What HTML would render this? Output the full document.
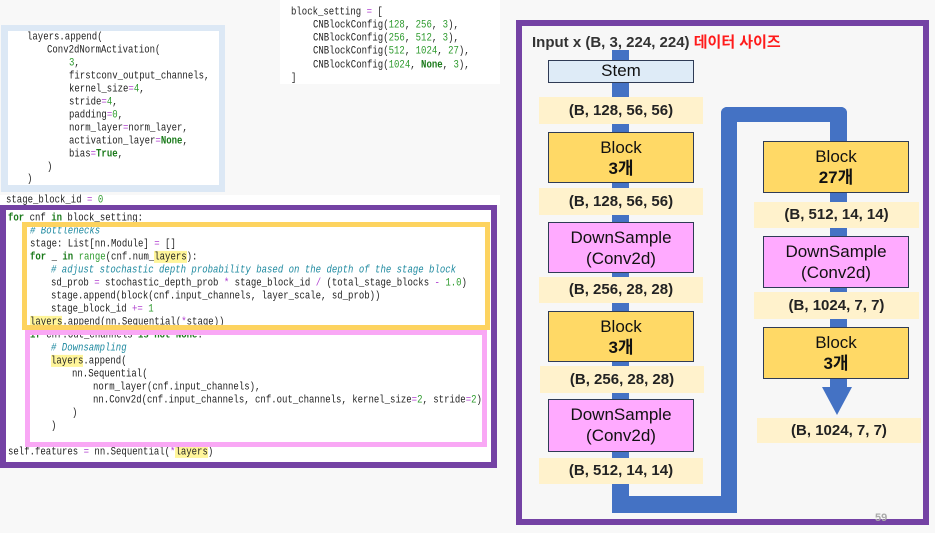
<!DOCTYPE html>
<html><head><meta charset="utf-8"><style>
body{margin:0;width:935px;height:533px;background:#f8f8f8;position:relative;overflow:hidden;font-family:"Liberation Sans","Noto Sans CJK KR",sans-serif}
.a{position:absolute}
.c{position:absolute;font-family:"Liberation Mono",monospace;font-size:9px;line-height:13px;height:13px;white-space:pre;color:#222;transform:scaleY(1.2);transform-origin:0 50%}
.k{color:#1a7a1a;font-weight:bold}.n{color:#2c9a2c}.o{color:#b040d0}.cm{color:#1f8aa0;font-style:italic}.h{background:#fff59a}
.lab{position:absolute;background:#fff2cc;font-weight:bold;font-size:15px;color:#222;text-align:center}
.bx{position:absolute;border:1.5px solid #2f3b55;box-sizing:border-box;text-align:center;color:#111;font-size:17px;line-height:21px}
.bl{background:#4472c4;position:absolute}
</style></head><body>
<!-- panel 1 -->
<div class="a" style="left:1px;top:25px;width:224px;height:167px;background:#dce8f5"></div>
<div class="a" style="left:8px;top:31px;width:211px;height:154px;background:#fff"></div>
<div class="c" style="left:27px;top:31px">layers.append(</div>
<div class="c" style="left:47px;top:44px">Conv2dNormActivation(</div>
<div class="c" style="left:69px;top:57px"><span class="n">3</span>,</div>
<div class="c" style="left:69px;top:70px">firstconv_output_channels,</div>
<div class="c" style="left:69px;top:83px">kernel_size<span class="o">=</span><span class="n">4</span>,</div>
<div class="c" style="left:69px;top:96px">stride<span class="o">=</span><span class="n">4</span>,</div>
<div class="c" style="left:69px;top:109px">padding<span class="o">=</span><span class="n">0</span>,</div>
<div class="c" style="left:69px;top:122px">norm_layer<span class="o">=</span>norm_layer,</div>
<div class="c" style="left:69px;top:135px">activation_layer<span class="o">=</span><span class="k">None</span>,</div>
<div class="c" style="left:69px;top:148px">bias<span class="o">=</span><span class="k">True</span>,</div>
<div class="c" style="left:47px;top:161px">)</div>
<div class="c" style="left:27px;top:173px">)</div>
<!-- panel 2 -->
<div class="a" style="left:280px;top:0;width:220px;height:84px;background:#fff"></div>
<div class="c" style="left:291px;top:6px">block_setting <span class="o">=</span> [</div>
<div class="c" style="left:313px;top:19px">CNBlockConfig(<span class="n">128</span>, <span class="n">256</span>, <span class="n">3</span>),</div>
<div class="c" style="left:313px;top:32px">CNBlockConfig(<span class="n">256</span>, <span class="n">512</span>, <span class="n">3</span>),</div>
<div class="c" style="left:313px;top:45px">CNBlockConfig(<span class="n">512</span>, <span class="n">1024</span>, <span class="n">27</span>),</div>
<div class="c" style="left:313px;top:59px">CNBlockConfig(<span class="n">1024</span>, <span class="k">None</span>, <span class="n">3</span>),</div>
<div class="c" style="left:291px;top:72px">]</div>
<!-- panel 3 -->
<div class="a" style="left:0;top:195px;width:500px;height:10px;background:#fff"></div>
<div class="c" style="left:6px;top:194px">stage_block_id <span class="o">=</span> <span class="n">0</span></div>
<div class="a" style="left:0;top:205px;width:485px;height:252px;background:#fff;border:6px solid #7442a4;border-top-width:5px"></div>
<div class="c" style="left:8px;top:212px"><span class="k">for</span> cnf <span class="k">in</span> block_setting:</div>
<div class="c" style="left:30px;top:225px"><span class="cm"># Bottlenecks</span></div>
<div class="c" style="left:30px;top:238px">stage: List[nn.Module] <span class="o">=</span> []</div>
<div class="c" style="left:30px;top:251px"><span class="k">for</span> _ <span class="k">in</span> <span class="n">range</span>(cnf.num_<span class="h">layers</span>):</div>
<div class="c" style="left:51px;top:264px"><span class="cm"># adjust stochastic depth probability based on the depth of the stage block</span></div>
<div class="c" style="left:51px;top:277px">sd_prob <span class="o">=</span> stochastic_depth_prob <span class="o">*</span> stage_block_id <span class="o">/</span> (total_stage_blocks <span class="o">-</span> <span class="n">1.0</span>)</div>
<div class="c" style="left:51px;top:290px">stage.append(block(cnf.input_channels, layer_scale, sd_prob))</div>
<div class="c" style="left:51px;top:303px">stage_block_id <span class="o">+=</span> <span class="n">1</span></div>
<div class="c" style="left:30px;top:316px"><span class="h">layers</span>.append(nn.Sequential(<span class="o">*</span>stage))</div>
<div class="c" style="left:30px;top:329px"><span class="k">if</span> cnf.out_channels <span class="k">is not None</span>:</div>
<div class="c" style="left:51px;top:342px"><span class="cm"># Downsampling</span></div>
<div class="c" style="left:51px;top:355px"><span class="h">layers</span>.append(</div>
<div class="c" style="left:72px;top:368px">nn.Sequential(</div>
<div class="c" style="left:93px;top:381px">norm_layer(cnf.input_channels),</div>
<div class="c" style="left:93px;top:394px">nn.Conv2d(cnf.input_channels, cnf.out_channels, kernel_size<span class="o">=</span><span class="n">2</span>, stride<span class="o">=</span><span class="n">2</span>)</div>
<div class="c" style="left:72px;top:407px">)</div>
<div class="c" style="left:51px;top:420px">)</div>
<div class="c" style="left:8px;top:446px">self.features <span class="o">=</span> nn.Sequential(<span class="o">*</span><span class="h">layers</span>)</div>
<div class="a" style="left:22px;top:222px;width:458px;height:98px;border:5px solid #fdd35f"></div>
<div class="a" style="left:25px;top:330px;width:452px;height:107px;border:5px solid #f9a8f5"></div>
<!-- right diagram -->
<div class="a" style="left:516px;top:20px;width:401px;height:493px;border:6px solid #7442a4;background:#f7f7f7"></div>
<div class="a" style="left:532px;top:31px;font-size:15px;font-weight:bold;color:#333">Input x (B, 3, 224, 224) <span style="color:#ff1a1a">데이터 사이즈</span></div>
<div class="bl" style="left:612px;top:50px;width:17px;height:463px"></div>
<div class="bl" style="left:612px;top:496px;width:125px;height:17px"></div>
<div class="bl" style="left:721px;top:107px;width:16px;height:406px;border-radius:6px 0 0 0"></div>
<div class="bl" style="left:721px;top:107px;width:126px;height:15px;border-radius:6px 6px 0 0"></div>
<div class="bl" style="left:830px;top:107px;width:17px;height:280px;border-radius:0 6px 0 0"></div>
<div class="a" style="left:822px;top:387px;width:0;height:0;border-left:15.5px solid transparent;border-right:15.5px solid transparent;border-top:28px solid #4472c4"></div>
<div class="bx" style="left:548px;top:60px;width:146px;height:23px;background:#deebf7;line-height:20px">Stem</div>
<div class="lab" style="left:539px;top:97px;width:164px;height:27px;line-height:27px">(B, 128, 56, 56)</div>
<div class="bx" style="left:548px;top:132px;width:146px;height:51px;background:#ffd966;padding-top:4px">Block<br><b>3개</b></div>
<div class="lab" style="left:539px;top:188px;width:164px;height:27px;line-height:27px">(B, 128, 56, 56)</div>
<div class="bx" style="left:548px;top:222px;width:146px;height:51px;background:#ffaaff;padding-top:4px">DownSample<br>(Conv2d)</div>
<div class="lab" style="left:539px;top:277px;width:164px;height:26px;line-height:26px">(B, 256, 28, 28)</div>
<div class="bx" style="left:548px;top:311px;width:146px;height:51px;background:#ffd966;padding-top:4px">Block<br><b>3개</b></div>
<div class="lab" style="left:540px;top:366px;width:164px;height:27px;line-height:27px">(B, 256, 28, 28)</div>
<div class="bx" style="left:548px;top:399px;width:146px;height:53px;background:#ffaaff;padding-top:4px">DownSample<br>(Conv2d)</div>
<div class="lab" style="left:539px;top:458px;width:164px;height:26px;line-height:26px">(B, 512, 14, 14)</div>
<div class="bx" style="left:763px;top:141px;width:146px;height:52px;background:#ffd966;padding-top:4px">Block<br><b>27개</b></div>
<div class="lab" style="left:754px;top:202px;width:165px;height:26px;line-height:26px">(B, 512, 14, 14)</div>
<div class="bx" style="left:763px;top:236px;width:146px;height:52px;background:#ffaaff;padding-top:4px">DownSample<br>(Conv2d)</div>
<div class="lab" style="left:754px;top:292px;width:165px;height:27px;line-height:27px">(B, 1024, 7, 7)</div>
<div class="bx" style="left:763px;top:327px;width:146px;height:52px;background:#ffd966;padding-top:4px">Block<br><b>3개</b></div>
<div class="lab" style="left:757px;top:418px;width:164px;height:25px;line-height:25px">(B, 1024, 7, 7)</div>
<div class="a" style="left:875px;top:512px;font-size:11px;color:#aaa;font-weight:bold">59</div>
</body></html>
